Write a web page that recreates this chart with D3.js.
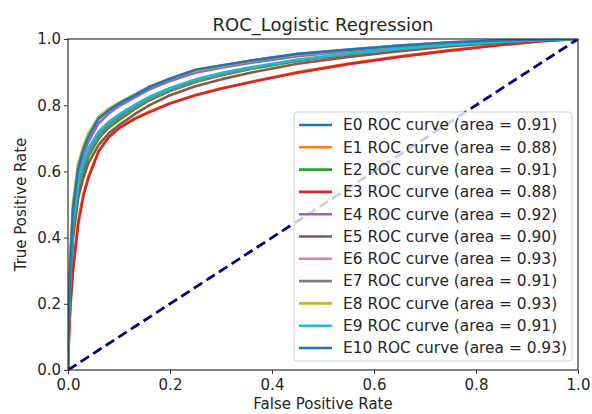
<!DOCTYPE html>
<html>
<head>
<meta charset="utf-8">
<script src="https://cdn.jsdelivr.net/npm/d3@7"></script>
<style>
  body { margin: 0; background: #fff; }
  text { font-family: "DejaVu Sans", sans-serif; fill: #262626; }
</style>
</head>
<body>
<div id="chart"></div>
<script>
var width = 592, height = 414;
var margin = {top: 39, right: 14, bottom: 44, left: 68};

// shared false positive rate points
var fprPoints = [0, 0.002, 0.005, 0.01, 0.02, 0.03, 0.04, 0.06, 0.08, 0.1, 0.13, 0.16, 0.2, 0.25, 0.3, 0.36, 0.45, 0.55, 0.65, 0.75, 0.85, 0.93, 1];

var names = ["E0","E1","E2","E3","E4","E5","E6","E7","E8","E9","E10"];
var areas = [0.91, 0.88, 0.91, 0.88, 0.92, 0.90, 0.93, 0.91, 0.93, 0.91, 0.93];
var colors = ["#1f77b4","#ff7f0e","#2ca02c","#d62728","#9467bd","#8c564b","#e377c2","#7f7f7f","#bcbd22","#17becf","#1f77b4"];

var tprE0  = [0,.17,.30,.44,.56,.62,.665,.715,.745,.767,.796,.822,.849,.875,.894,.912,.936,.954,.970,.982,.992,.997,1];
var tprE1  = [0,.11,.21,.31,.45,.53,.585,.662,.705,.732,.760,.781,.806,.831,.851,.871,.900,.926,.948,.967,.983,.993,1];
var tprE2  = [0,.16,.29,.42,.54,.60,.645,.700,.732,.755,.787,.815,.843,.870,.890,.910,.934,.953,.969,.982,.991,.997,1];
var tprE3  = [0,.10,.20,.30,.44,.525,.58,.66,.703,.73,.758,.779,.805,.830,.850,.870,.898,.924,.946,.965,.982,.993,1];
var tprE4  = [0,.19,.33,.47,.59,.65,.69,.745,.775,.797,.823,.848,.873,.898,.913,.928,.948,.963,.976,.987,.995,.999,1];
var tprE5  = [0,.15,.27,.40,.52,.58,.625,.680,.715,.740,.772,.800,.830,.857,.878,.899,.925,.946,.963,.978,.989,.996,1];
var tprE6  = [0,.20,.35,.49,.61,.665,.705,.758,.785,.806,.831,.856,.881,.906,.920,.935,.954,.968,.980,.990,.996,.999,1];
var tprE7  = [0,.17,.30,.43,.55,.61,.655,.708,.740,.762,.792,.819,.846,.873,.892,.911,.935,.954,.969,.982,.992,.997,1];
var tprE8  = [0,.22,.37,.51,.625,.675,.715,.765,.790,.808,.832,.856,.880,.905,.918,.934,.953,.967,.979,.989,.996,.999,1];
var tprE9  = [0,.18,.31,.45,.57,.63,.67,.72,.75,.772,.80,.826,.852,.878,.897,.915,.938,.956,.971,.983,.992,.997,1];
var tprE10 = [0,.20,.34,.49,.61,.665,.705,.76,.785,.805,.83,.855,.88,.907,.92,.935,.955,.968,.98,.99,.996,.999,1];
var tprAll = [tprE0,tprE1,tprE2,tprE3,tprE4,tprE5,tprE6,tprE7,tprE8,tprE9,tprE10];

var ticks = [0, 0.2, 0.4, 0.6, 0.8, 1.0];

var svg = d3.select("#chart").append("svg")
  .attr("width", width)
  .attr("height", height);

var x = d3.scaleLinear().domain([0,1]).range([margin.left, width-margin.right]);
var y = d3.scaleLinear().domain([0,1]).range([height-margin.bottom, margin.top]);

var curves = names.map(function(n,i){
  return {name:n, area:areas[i], color:colors[i], pts:fprPoints.map(function(f,j){ return [f, tprAll[i][j]]; })};
});

var line = d3.line()
  .x(function(d){ return x(d[0]); })
  .y(function(d){ return y(d[1]); });

svg.append("defs").append("clipPath").attr("id","clip")
  .append("rect")
  .attr("x", margin.left).attr("y", margin.top)
  .attr("width", x(1)-x(0)).attr("height", y(0)-y(1));

var plot = svg.append("g").attr("clip-path","url(#clip)");

plot.selectAll("path.roc")
  .data(curves)
  .enter()
  .append("path")
  .attr("class","roc")
  .attr("d", function(d){ return line(d.pts); })
  .attr("fill","none")
  .attr("stroke", function(d){ return d.color; })
  .attr("stroke-width", 2.6)
  .attr("stroke-linejoin","round");

plot.append("path")
  .attr("d", line([[0,0],[1,1]]))
  .attr("fill","none")
  .attr("stroke","#000080")
  .attr("stroke-width", 2.8)
  .attr("stroke-dasharray","10,5");

// axes
var xAxis = d3.axisBottom(x).tickValues(ticks).tickFormat(d3.format(".1f")).tickSizeOuter(0).tickSize(4).tickPadding(3);
var yAxis = d3.axisLeft(y).tickValues(ticks).tickFormat(d3.format(".1f")).tickSizeOuter(0).tickSize(4).tickPadding(3);

var gx = svg.append("g").attr("transform","translate(0,"+y(0)+")").call(xAxis);
var gy = svg.append("g").attr("transform","translate("+x(0)+",0)").call(yAxis);
[gx,gy].forEach(function(g){
  g.select(".domain").remove();
  g.selectAll(".tick line").attr("stroke","#333");
  g.selectAll(".tick text").attr("font-size","15px").attr("font-family","DejaVu Sans").style("fill","#262626");
});
gx.selectAll(".tick text").attr("dy","0.85em");

svg.append("rect")
  .attr("x", x(0)).attr("y", y(1))
  .attr("width", x(1)-x(0)).attr("height", y(0)-y(1))
  .attr("fill","none")
  .attr("stroke","#333")
  .attr("stroke-width",1.2);

// titles
svg.append("text")
  .attr("x", (x(0)+x(1))/2).attr("y", 31)
  .attr("text-anchor","middle")
  .attr("font-size","18px")
  .text("ROC_Logistic Regression");

svg.append("text")
  .attr("x", (x(0)+x(1))/2).attr("y", 409)
  .attr("text-anchor","middle")
  .attr("font-size","15px")
  .text("False Positive Rate");

svg.append("text")
  .attr("transform","translate(26,"+((y(0)+y(1))/2)+") rotate(-90)")
  .attr("text-anchor","middle")
  .attr("font-size","15px")
  .text("True Positive Rate");

// legend
var legX = 294, legY = 112, legW = 278, legH = 249, rowH = 22.3;
var legend = svg.append("g");
legend.append("rect")
  .attr("x", legX).attr("y", legY)
  .attr("width", legW).attr("height", legH)
  .attr("rx", 3)
  .attr("fill","#fff").attr("fill-opacity",0.8)
  .attr("stroke","#d0d0d0");

var item = legend.selectAll("g.item")
  .data(curves)
  .enter()
  .append("g")
  .attr("class","item")
  .attr("transform", function(d,i){ return "translate("+legX+","+(legY+13+i*rowH)+")"; });

item.append("line")
  .attr("x1",5).attr("x2",38)
  .attr("stroke", function(d){ return d.color; })
  .attr("stroke-width",2.6);

item.append("text")
  .attr("x",49)
  .attr("dy","0.35em")
  .attr("font-size","15.4px")
  .text(function(d){ return d.name+" ROC curve (area = "+d.area.toFixed(2)+")"; });
</script>
</body>
</html>
